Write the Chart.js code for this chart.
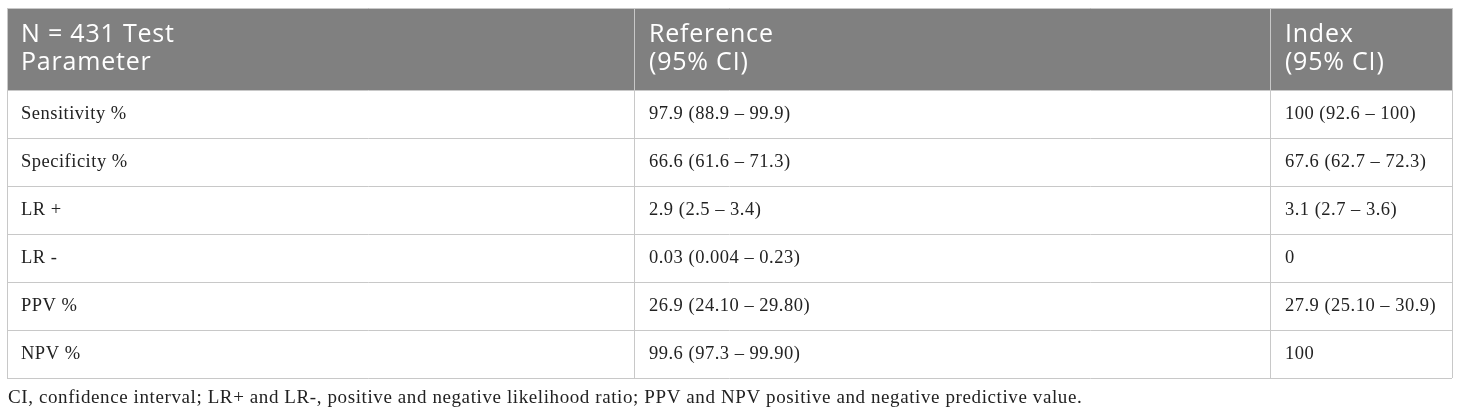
<!DOCTYPE html>
<html>
<head>
<meta charset="utf-8">
<script src="https://cdn.jsdelivr.net/npm/chart.js@4.4.0/dist/chart.umd.min.js"></script>
<style>
  html, body { margin: 0; background: #fff; }
  #wrap { width: 1460px; height: 416px; position: relative; }
</style>
</head>
<body>
<div id="wrap"><canvas id="tableChart"></canvas></div>
<script>
// table content
const headers = [
  ["N = 431 Test", "Parameter"],
  ["Reference", "(95% CI)"],
  ["Index", "(95% CI)"],
];
const parameters = ["Sensitivity %", "Specificity %", "LR +", "LR -", "PPV %", "NPV %"];
const referenceCI = [
  "97.9 (88.9 – 99.9)",
  "66.6 (61.6 – 71.3)",
  "2.9 (2.5 – 3.4)",
  "0.03 (0.004 – 0.23)",
  "26.9 (24.10 – 29.80)",
  "99.6 (97.3 – 99.90)",
];
const indexCI = [
  "100 (92.6 – 100)",
  "67.6 (62.7 – 72.3)",
  "3.1 (2.7 – 3.6)",
  "0",
  "27.9 (25.10 – 30.9)",
  "100",
];
const footnote =
  "CI, confidence interval; LR+ and LR-, positive and negative likelihood ratio; PPV and NPV positive and negative predictive value.";

// layout (fractions of table width, row units)
const colEdges = [0, 0.4346, 0.8747, 1];
const headerSpan = 82 / 48;
const rowEdges = [0, headerSpan, ...parameters.map((_, i) => headerSpan + i + 1)];

const tablePlugin = {
  id: "tablePlugin",
  beforeDraw(chart) {
    const { ctx, scales: { x, y } } = chart;
    ctx.save();
    ctx.fillStyle = "#808080";
    const x0 = x.getPixelForValue(0);
    const x1 = x.getPixelForValue(1);
    const y0 = y.getPixelForValue(0);
    const y1 = y.getPixelForValue(headerSpan);
    ctx.fillRect(x0, y0, x1 - x0, y1 - y0);
    ctx.restore();
  },
  afterDraw(chart) {
    const { ctx, scales: { x, y } } = chart;
    const pad = 14;
    ctx.save();
    ctx.textBaseline = "middle";
    ctx.textAlign = "left";

    // header
    ctx.fillStyle = "#ffffff";
    ctx.font = '25px "Open Sans"';
    ctx.letterSpacing = "0.8px";
    const hMid = y.getPixelForValue(headerSpan / 2);
    headers.forEach((lines, c) => {
      const px = x.getPixelForValue(colEdges[c]) + pad;
      ctx.fillText(lines[0], px, hMid - 14);
      ctx.fillText(lines[1], px, hMid + 14);
    });

    // body
    ctx.fillStyle = "#222222";
    ctx.font = '18.5px "Liberation Serif"';
    ctx.letterSpacing = "0.5px";
    const columns = [parameters, referenceCI, indexCI];
    parameters.forEach((_, r) => {
      const py = y.getPixelForValue(rowEdges[r + 1] + 0.5);
      columns.forEach((col, c) => {
        ctx.fillText(col[r], x.getPixelForValue(colEdges[c]) + pad, py);
      });
    });

    // footnote
    ctx.font = '19px "Liberation Serif"';
    ctx.letterSpacing = "0.6px";
    ctx.fillText(footnote, x.getPixelForValue(0) + 1, y.getPixelForValue(rowEdges[rowEdges.length - 1]) + 20);
    ctx.restore();
  },
};

const gridStyle = { color: "#c8c8c8", lineWidth: 1, drawTicks: false };

new Chart(document.getElementById("tableChart"), {
  type: "scatter",
  data: { datasets: [] },
  options: {
    responsive: true,
    maintainAspectRatio: false,
    animation: false,
    layout: { padding: { left: 7, right: 8, top: 8, bottom: 38 } },
    plugins: { legend: { display: false }, tooltip: { enabled: false } },
    scales: {
      x: {
        type: "linear",
        min: 0,
        max: 1,
        afterBuildTicks: (s) => { s.ticks = colEdges.map((v) => ({ value: v })); },
        afterFit: (s) => { s.height = 0; },
        ticks: { display: false },
        grid: gridStyle,
        border: { display: false },
      },
      y: {
        type: "linear",
        reverse: true,
        min: 0,
        max: rowEdges[rowEdges.length - 1],
        afterBuildTicks: (s) => { s.ticks = rowEdges.map((v) => ({ value: v })); },
        afterFit: (s) => { s.width = 0; },
        ticks: { display: false },
        grid: gridStyle,
        border: { display: false },
      },
    },
  },
  plugins: [tablePlugin],
});
</script>
</body>
</html>
